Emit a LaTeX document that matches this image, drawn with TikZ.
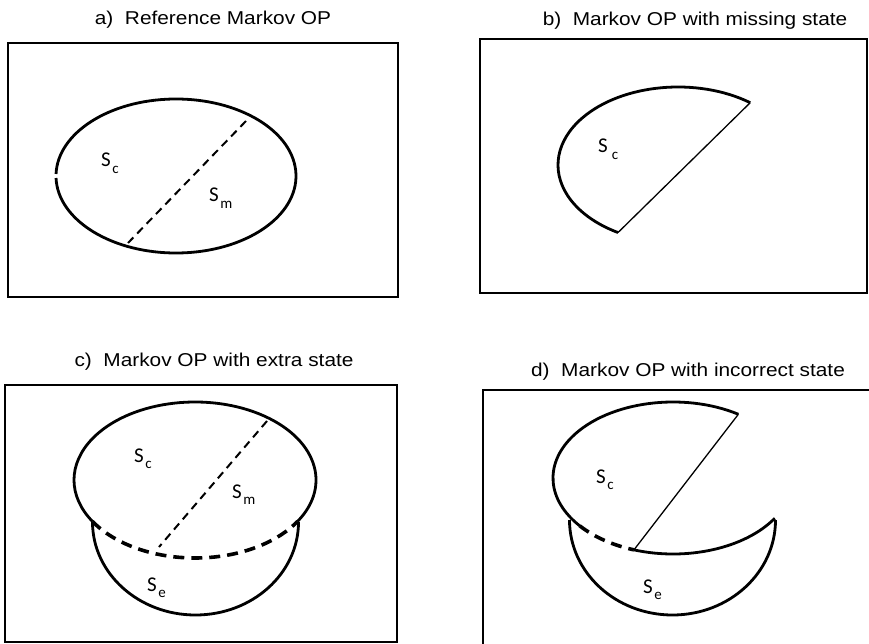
\documentclass[tikz,border=0pt]{standalone}
\usepackage{fontspec}
\setmainfont{Liberation Sans}
\newfontfamily\titlefont[FakeStretch=1.12]{Liberation Sans}
\newfontfamily\labfont{Carlito}
\newcommand{\stt}[1]{S\kern1.5pt\raisebox{-0.3em}{\fontsize{15}{16}\selectfont #1}}
\begin{document}
\begin{tikzpicture}[x=1pt,y=-1pt,
  frame/.style={line width=2.4pt},
  curve/.style={line width=2.8pt},
  thinline/.style={line width=1.3pt},
  dashline/.style={line width=2pt, dash pattern=on 8pt off 5.5pt},
  thickdash/.style={line width=3.6pt, dash pattern=on 11pt off 7pt},
  title/.style={font=\titlefont\fontsize{18.6}{20}\selectfont, anchor=base, inner sep=0pt},
  lab/.style={font=\labfont\fontsize{21}{22}\selectfont, anchor=base west, inner sep=0pt}]
\useasboundingbox (0,0) rectangle (869,644);

% ---- a) ----
\node[title] (ta) at (213,25) {a)~~Reference Markov OP};
\draw[frame] (8,43) rectangle (398,297);
\draw[curve] (176,176) ++(-181.5:120 and 77) arc[start angle=-181.5, end angle=-538.5, x radius=120, y radius=77];
\coordinate (a1) at (246,121);
\coordinate (a2) at (128,243);
\draw[dashline] (a1) -- (a2);
\node[lab] (sca) at (101,167) {\stt{c}};
\node[lab] (sma) at (209,202) {\stt{m}};

% ---- b) ----
\node[title] (tb) at (695,26) {b)~~Markov OP with missing state};
\draw[frame] (480,39) rectangle (867,293);
\draw[curve] (678,165) ++(-53:120 and 78) coordinate (b1)
  arc[start angle=-53, end angle=-240, x radius=120, y radius=78] coordinate (b2);
\draw[thinline] (b1) -- (b2);
\node[lab] (scb) at (598,153) {S\kern4pt\raisebox{-0.3em}{\fontsize{15}{16}\selectfont c}};

% ---- c) ----
\node[title] (tc) at (214,366) {c)~~Markov OP with extra state};
\draw[frame] (5,385) rectangle (397,642);
\draw[curve] (195,480) ++(32:121 and 78)
  arc[start angle=32, end angle=-212, x radius=121, y radius=78] coordinate (c2);
\draw[thickdash] (c2) arc[start angle=-212, end angle=-328, x radius=121, y radius=78];
\coordinate (c3) at (267,421);
\coordinate (c4) at (159,547);
\draw[dashline] (c3) -- (c4);
\draw[curve] (195.5,522) ++(180:103 and 93)
  arc[start angle=180, end angle=0, x radius=103, y radius=93];
\node[lab] (scc) at (134,462) {\stt{c}};
\node[lab] (smc) at (232,498) {\stt{m}};
\node[lab] (sec) at (147,591) {\stt{e}};

% ---- d) ----
\node[title] (td) at (688,376) {d)~~Markov OP with incorrect state};
\draw[frame] (869,390) -- (483,390) -- (483,646);
\draw[curve] (673,478) ++(-57:120 and 76) coordinate (d1)
  arc[start angle=-57, end angle=-219, x radius=120, y radius=76] coordinate (d2);
\draw[thickdash] (d2) arc[start angle=-219, end angle=-251, x radius=120, y radius=76] coordinate (d3);
\draw[curve] (d3) arc[start angle=-251, end angle=-328, x radius=120, y radius=76];
\draw[thinline] (d1) -- (d3);
\draw[curve] (672.5,520) ++(180:103 and 95)
  arc[start angle=180, end angle=0, x radius=103, y radius=95];
\node[lab] (scd) at (596,483) {\stt{c}};
\node[lab] (sed) at (643,593) {\stt{e}};
\end{tikzpicture}
\end{document}
